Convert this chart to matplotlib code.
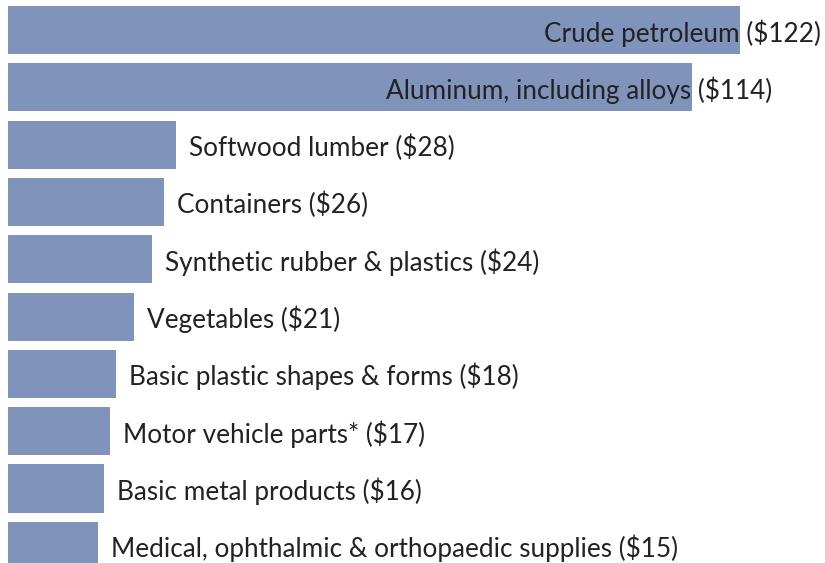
import matplotlib.pyplot as plt

# export values, $ billions
products = ['Crude petroleum', 'Aluminum, including alloys', 'Softwood lumber',
            'Containers', 'Synthetic rubber & plastics', 'Vegetables',
            'Basic plastic shapes & forms', 'Motor vehicle parts*',
            'Basic metal products', 'Medical, ophthalmic & orthopaedic supplies']
values = [122, 114, 28, 26, 24, 21, 18, 17, 16, 15]

plt.rcParams['font.family'] = ['Lato', 'DejaVu Sans']

fig = plt.figure(figsize=(8.25, 5.63), dpi=100)
ax = fig.add_axes([8/825, 0, 817/825, 1])

y = list(range(len(values)))
ax.barh(y, values, height=0.84, color='#7f93bb')

for i, v in enumerate(values):
    lab = f'{products[i]} (${v})'
    if v > 100:
        # big bars: label sits over the end of the bar
        ax.annotate(lab, (v, i), xytext=(58, -2), textcoords='offset points',
                    ha='right', va='center', fontsize=18.8, color='#222222')
    else:
        ax.annotate(lab, (v, i), xytext=(9.5, -2), textcoords='offset points',
                    ha='left', va='center', fontsize=18.8, color='#222222')

ax.set_xlim(0, 136.2)
ax.set_ylim(9.30, -0.524)
ax.axis('off')

fig.savefig('out.png', dpi=100)
